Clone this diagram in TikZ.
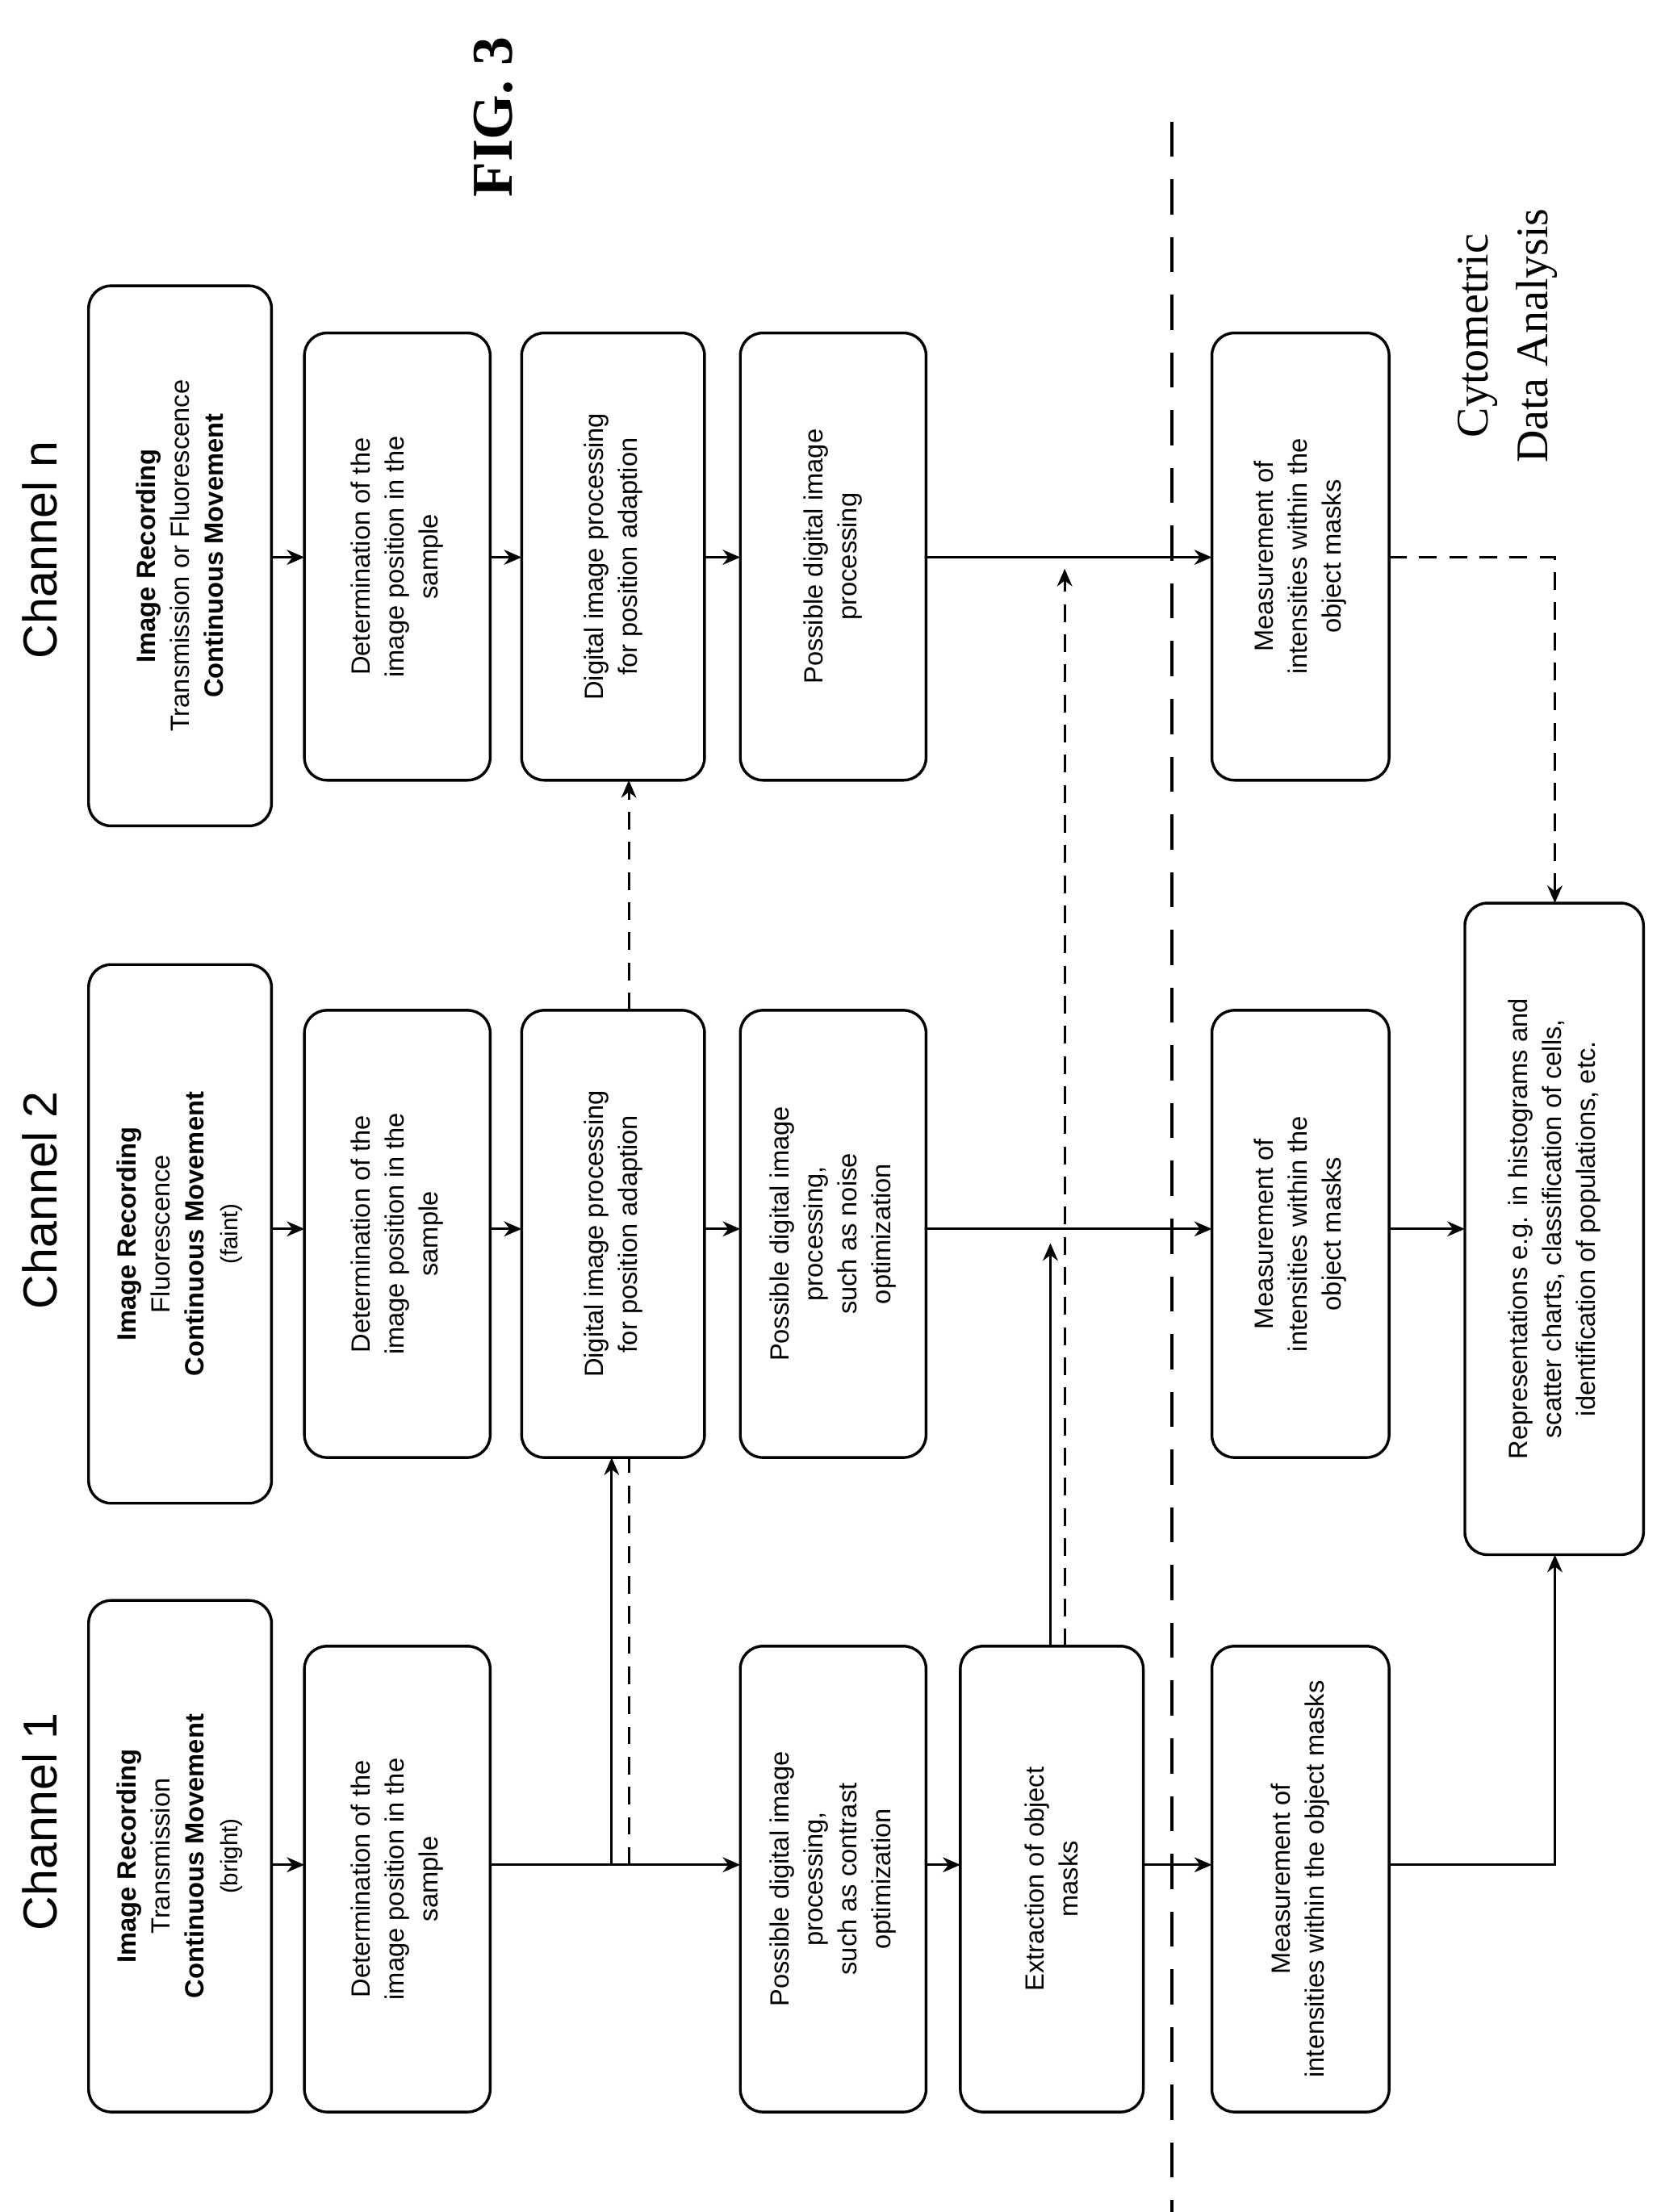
\documentclass[tikz,border=0pt]{standalone}
\usepackage{fontspec}
\setmainfont{Liberation Sans}
\newfontfamily\seriff{Liberation Serif}
\usetikzlibrary{arrows.meta}
\begin{document}
\begin{tikzpicture}[x=0.02cm,y=-0.02cm,
  box/.style={draw,line width=1.1pt,rounded corners=9pt,rotate=90,align=center,inner sep=0pt,outer sep=0pt,font=\fontsize{10.5}{13.5}\selectfont},
  arr/.style={line width=1pt,-{Stealth[length=7pt,width=6pt]}},
  dsh/.style={line width=1pt,dash pattern=on 7pt off 5pt}]
\useasboundingbox (0,0) rectangle (1162,1548);
\newcommand{\bx}[6]{\node[box,minimum width={(#4-#3)*0.02cm},minimum height={(#6-#5)*0.02cm}] (#1) at ({(#5+#6)/2},{(#3+#4)/2}) {#2};}
% column 1
\bx{r1}{\textbf{Image Recording}\\Transmission\\\textbf{Continuous Movement}\\{\fontsize{9.5}{12}\selectfont(bright)}}{1120}{1478}{62}{190}
\bx{r2}{\textbf{Image Recording}\\Fluorescence\\\textbf{Continuous Movement}\\{\fontsize{9.5}{12}\selectfont(faint)}}{675}{1052}{62}{190}
\bx{rn}{\textbf{Image Recording}\\Transmission or Fluorescence\\\textbf{Continuous Movement}}{200}{578}{62}{190}
% column 2
\bx{d1}{Determination of the\\image position in the\\sample}{1152}{1478}{213}{343}
\bx{d2}{Determination of the\\image position in the\\sample}{707}{1020}{213}{343}
\bx{dn}{Determination of the\\image position in the\\sample}{233}{546}{213}{343}
% column 3
\bx{g2}{Digital image processing\\for position adaption}{707}{1020}{365}{493}
\bx{gn}{Digital image processing\\for position adaption}{233}{546}{365}{493}
% column 4
\bx{p1}{Possible digital image\\processing,\\such as contrast\\optimization}{1152}{1478}{518}{648}
\bx{p2}{Possible digital image\\processing,\\such as noise\\optimization}{707}{1020}{518}{648}
\bx{pn}{Possible digital image\\processing}{233}{546}{518}{648}
% column 5
\bx{e1}{Extraction of object\\masks}{1152}{1478}{672}{800}
% column 6
\bx{m1}{Measurement of\\intensities within the object masks}{1152}{1478}{848}{972}
\bx{m2}{Measurement of\\intensities within the\\object masks}{707}{1020}{848}{972}
\bx{mn}{Measurement of\\intensities within the\\object masks}{233}{546}{848}{972}
\bx{rep}{Representations e.g. in histograms and\\scatter charts, classification of cells,\\identification of populations, etc.}{632}{1088}{1025}{1150}
% labels
\node[rotate=90,font=\fontsize{19}{22}\selectfont] (c1) at (28,1275) {Channel 1};
\node[rotate=90,font=\fontsize{19}{22}\selectfont] (c2) at (28,840) {Channel 2};
\node[rotate=90,font=\fontsize{19}{22}\selectfont] (cn) at (28,385) {Channel n};
\node[rotate=90,font=\seriff\bfseries\fontsize{23}{26}\selectfont] (fig) at (345,82) {FIG. 3};
\node[rotate=90,align=center,font=\seriff\fontsize{18}{24}\selectfont] (cda) at (1055,235) {Cytometric\\Data Analysis};
% dashed separator
\coordinate (s1) at (820,85); \coordinate (s2) at (820,1548);
\draw[line width=1pt,dash pattern=on 14pt off 9pt] (s1) -- (s2);
% row arrows
\draw[arr] (r1.south |- 0,1305) -- (d1.north |- 0,1305);
\draw[arr] (r2.south |- 0,860) -- (d2.north |- 0,860);
\draw[arr] (rn.south |- 0,390) -- (dn.north |- 0,390);
\draw[arr] (d2.south |- 0,860) -- (g2.north |- 0,860);
\draw[arr] (dn.south |- 0,390) -- (gn.north |- 0,390);
\draw[arr] (g2.south |- 0,860) -- (p2.north |- 0,860);
\draw[arr] (gn.south |- 0,390) -- (pn.north |- 0,390);
\draw[arr] (d1.south |- 0,1305) -- (p1.north |- 0,1305);
\draw[arr] (p1.south |- 0,1305) -- (e1.north |- 0,1305);
\draw[arr] (e1.south |- 0,1305) -- (m1.north |- 0,1305);
\draw[arr] (p2.south |- 0,860) -- (m2.north |- 0,860);
\draw[arr] (pn.south |- 0,390) -- (mn.north |- 0,390);
% branches from channel 1
\draw[arr] (428,1305) -- (g2.west -| 428,0);
\draw[dsh] (440,1305) -- (g2.west -| 440,0);
\draw[dsh,-{Stealth[length=7pt,width=6pt]}] (g2.east -| 440,0) -- (gn.west -| 440,0);
\draw[arr] (e1.east -| 735,0) -- (735,870);
\draw[dsh,-{Stealth[length=7pt,width=6pt]}] (e1.east -| 745,0) -- (745,398);
% to representations
\draw[arr] (m1.south |- 0,1305) -- (1088,1305) -- (rep.west -| 1088,0);
\draw[arr] (m2.south |- 0,860) -- (rep.north |- 0,860);
\draw[dsh,-{Stealth[length=7pt,width=6pt]}] (mn.south |- 0,390) -- (1088,390) -- (rep.east -| 1088,0);
\end{tikzpicture}
\end{document}
